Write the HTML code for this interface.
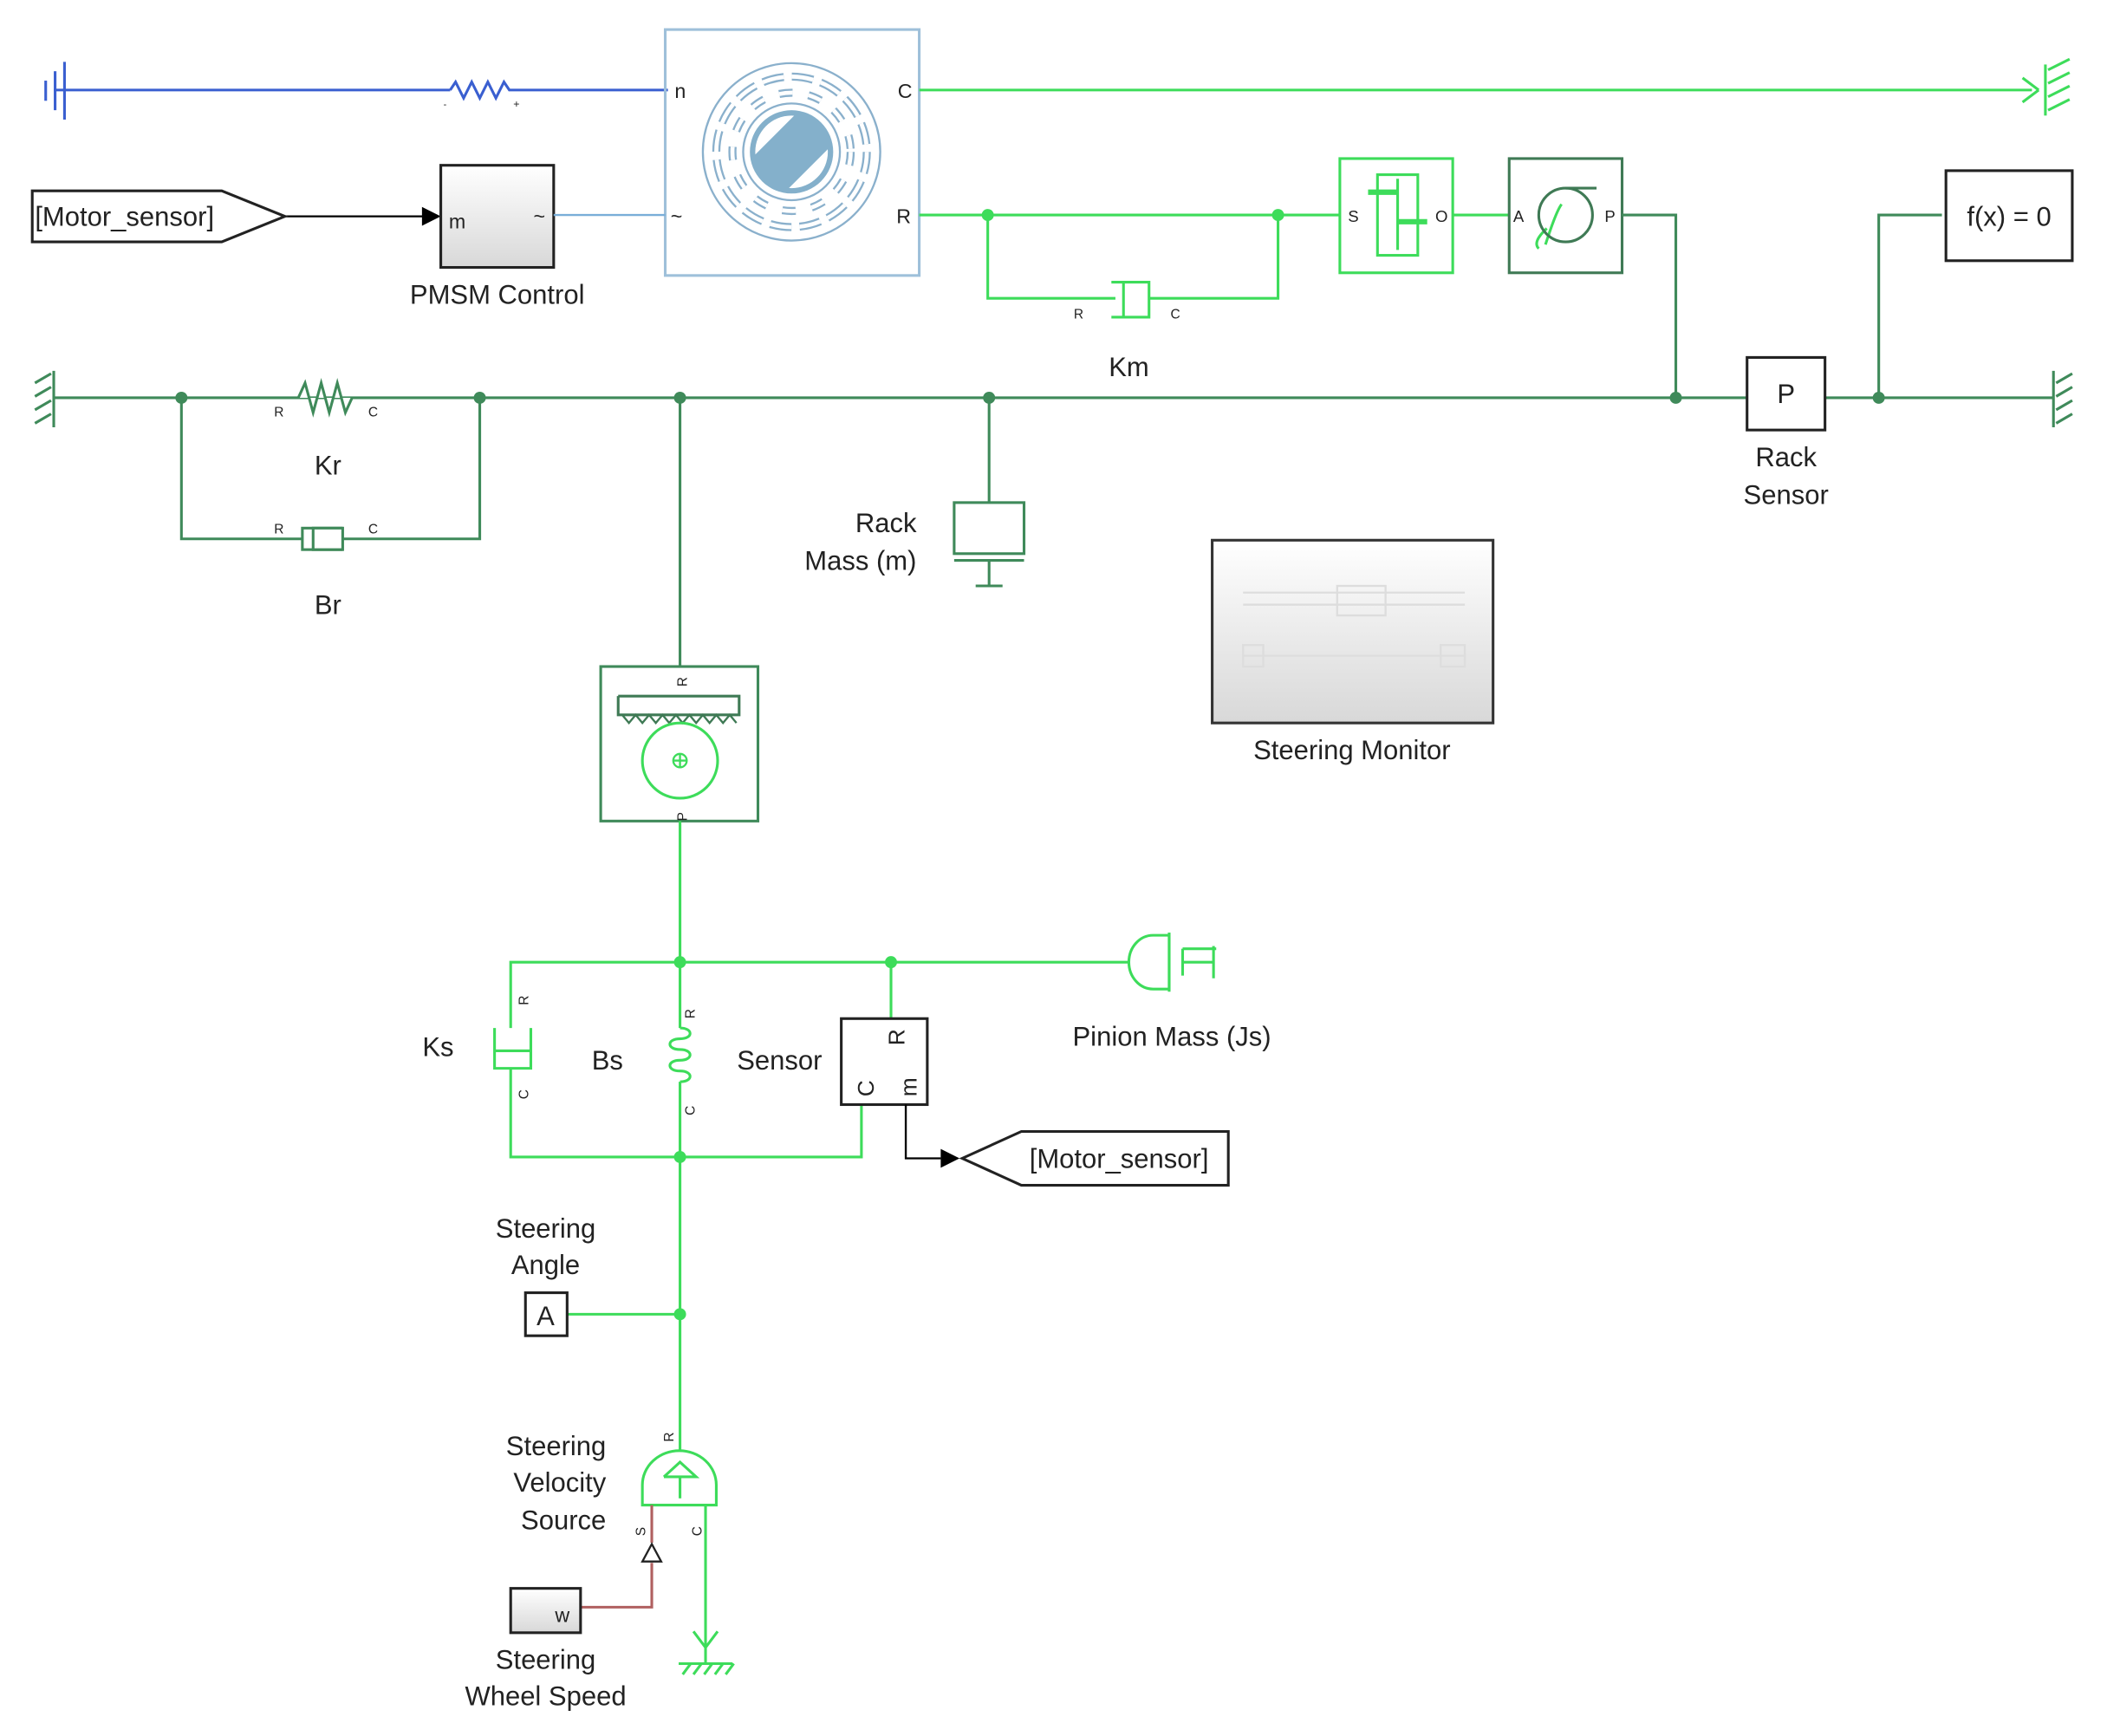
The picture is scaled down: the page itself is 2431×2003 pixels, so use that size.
<!DOCTYPE html>
<html><head><meta charset="utf-8"><style>
html,body{margin:0;padding:0;background:#fff;}
svg{display:block;}
text{font-family:"Liberation Sans",sans-serif;fill:#222;}
</style></head><body>
<svg width="2431" height="2003" viewBox="0 0 1560 1285.4" preserveAspectRatio="none" xmlns="http://www.w3.org/2000/svg">
<defs>
<linearGradient id="g" x1="0" y1="0" x2="0" y2="1"><stop offset="0" stop-color="#fff"/><stop offset="1" stop-color="#d8d8d8"/></linearGradient>
<clipPath id="rc"><circle cx="589" cy="113" r="27"/></clipPath>
</defs>
<g transform="scale(0.995)">
<g fill="none" stroke-width="2">
<g stroke="#3a5fd0">
<line x1="40" y1="67" x2="335" y2="67"/>
<polyline points="335,67 339,61 345,73 351,61 357,73 363,61 369,73 375,61 379,67 497,67"/>
<line x1="48" y1="46" x2="48" y2="89"/>
<line x1="41" y1="53" x2="41" y2="82"/>
<line x1="34" y1="60" x2="34" y2="75"/>
</g>
<text x="330" y="80" font-size="7" stroke="none" fill="#3a5fd0">-</text>
<text x="382" y="80" font-size="8" stroke="none" fill="#3a5fd0">+</text>
<rect x="495" y="22" width="189" height="183" stroke="#9ec0da"/>
<g stroke="#8ab0cc" stroke-width="1.5">
<circle cx="589" cy="113" r="66"/>
<circle cx="589" cy="113" r="56" stroke-width="6" stroke-dasharray="16 6"/>
<circle cx="589" cy="113" r="56" stroke="#fff" stroke-width="3" stroke-dasharray="16 6"/>
<circle cx="589" cy="113" r="44" stroke-width="6" stroke-dasharray="10 12"/>
<circle cx="589" cy="113" r="44" stroke="#fff" stroke-width="3" stroke-dasharray="10 12"/>
<circle cx="589" cy="113" r="36"/>
</g>
<circle cx="589" cy="113" r="31" fill="#84b0cb" stroke="none"/>
<g clip-path="url(#rc)">
<polygon points="533,144 620,57 523,47" fill="#fff" stroke="none"/>
<polygon points="645,82 558,169 655,179" fill="#fff" stroke="none"/>
</g>
<line x1="212" y1="161" x2="316" y2="161" stroke="#000" stroke-width="1.5"/>
<polygon points="314,154 328,161 314,168" fill="#000" stroke="none"/>
<rect x="328" y="123" width="84" height="76" fill="url(#g)" stroke="#222"/>
<line x1="412" y1="160" x2="495" y2="160" stroke="#7aaed8" stroke-width="1.5"/>
<polygon points="24,142 165,142 212,161 165,180 24,180" fill="#fff" stroke="#222"/>
<line x1="684" y1="67" x2="1512" y2="67" stroke="#3ddc5a"/>
<g stroke="#3ddc5a"><line x1="1505" y1="58" x2="1517" y2="67"/><line x1="1505" y1="76" x2="1517" y2="67"/><line x1="1522" y1="48" x2="1522" y2="86"/>
<line x1="1524" y1="52" x2="1540" y2="44"/><line x1="1524" y1="62" x2="1540" y2="54"/><line x1="1524" y1="72" x2="1540" y2="64"/><line x1="1524" y1="82" x2="1540" y2="74"/></g>
<g stroke="#3ddc5a">
<line x1="684" y1="160" x2="997" y2="160"/>
<polyline points="735,160 735,222 830,222"/>
<polyline points="951,160 951,222 855,222"/>
<line x1="836" y1="209" x2="836" y2="236"/>
<polyline points="827,210 855,210 855,236 827,236"/>
<rect x="997" y="118" width="84" height="85"/>
<rect x="1025" y="130" width="30" height="60"/>
<line x1="1040" y1="133" x2="1040" y2="186"/>
<line x1="1018" y1="143" x2="1040" y2="143" stroke-width="4"/>
<line x1="1040" y1="165" x2="1062" y2="165" stroke-width="4"/>
<line x1="1081" y1="160" x2="1123" y2="160"/>
<path d="M1150,182 q8,-25 12,-30 M1145,185 q-5,-5 6,-15" />
</g>
<circle cx="735" cy="160" r="4.5" fill="#3ddc5a" stroke="none"/>
<circle cx="951" cy="160" r="4.5" fill="#3ddc5a" stroke="none"/>
<rect x="1123" y="118" width="84" height="85" stroke="#3f7a55"/>
<circle cx="1165" cy="160" r="20" stroke="#3f7a55"/>
<line x1="1165" y1="140" x2="1188" y2="140" stroke="#3f7a55"/>
<g stroke="#3f8a5a">
<polyline points="1207,160 1247,160 1247,296"/>
<line x1="40" y1="296" x2="1300" y2="296"/>
<line x1="1358" y1="296" x2="1528" y2="296"/>
<line x1="40" y1="276" x2="40" y2="318"/>
<line x1="26" y1="285" x2="38" y2="278"/><line x1="26" y1="295" x2="38" y2="288"/><line x1="26" y1="305" x2="38" y2="298"/><line x1="26" y1="315" x2="38" y2="308"/>
<line x1="1528" y1="276" x2="1528" y2="318"/>
<line x1="1530" y1="285" x2="1542" y2="278"/><line x1="1530" y1="295" x2="1542" y2="288"/><line x1="1530" y1="305" x2="1542" y2="298"/><line x1="1530" y1="315" x2="1542" y2="308"/>
<polyline points="222,296 227,285 233,307 239,285 245,307 251,285 257,307 262,296" stroke="#3f8a5a" fill="#fff"/>
<polyline points="135,296 135,401 225,401"/>
<polyline points="357,296 357,401 255,401"/>
<polyline points="255,393 233,393 233,409 255,409" fill="#fff"/>
<rect x="225" y="393" width="30" height="16" fill="#fff"/>
<line x1="233" y1="393" x2="233" y2="409"/>
<polyline points="1398,296 1398,160 1445,160"/>
<line x1="736" y1="296" x2="736" y2="374"/>
<rect x="710" y="374" width="52" height="38"/>
<line x1="710" y1="417" x2="762" y2="417"/>
<line x1="736" y1="417" x2="736" y2="436"/>
<line x1="726" y1="436" x2="746" y2="436"/>
<line x1="506" y1="296" x2="506" y2="496"/>
<rect x="447" y="496" width="117" height="115"/>
</g>
<g fill="#3f8a5a" stroke="none">
<circle cx="135" cy="296" r="4.5"/><circle cx="357" cy="296" r="4.5"/><circle cx="506" cy="296" r="4.5"/><circle cx="736" cy="296" r="4.5"/><circle cx="1247" cy="296" r="4.5"/><circle cx="1398" cy="296" r="4.5"/>
</g>
<rect x="1300" y="266" width="58" height="54" fill="#fff" stroke="#222"/>
<rect x="1448" y="127" width="94" height="67" fill="#fff" stroke="#222"/>
<rect x="902" y="402" width="209" height="136" fill="url(#g)" stroke="#333"/>
<g stroke="#ddd" stroke-width="1.5"><line x1="925" y1="441" x2="1090" y2="441"/><line x1="925" y1="450" x2="1090" y2="450"/><rect x="995" y="436" width="36" height="22"/><line x1="925" y1="488" x2="1090" y2="488"/><rect x="925" y="480" width="15" height="16"/><rect x="1072" y="480" width="18" height="16"/></g>
<polyline points="460,518 550,518 550,532 460,532 460,518" stroke="#3f7a55"/>
<polyline points="463,532 468,538 473,532 478,538 483,532 488,538 493,532 498,538 503,532 508,538 513,532 518,538 523,532 528,538 533,532 538,538 543,532 548,538" stroke="#3f7a55" stroke-width="1.5"/>
<circle cx="506" cy="566" r="28" stroke="#3ddc5a"/>
<circle cx="506" cy="566" r="5" stroke="#3ddc5a" stroke-width="1.5"/>
<path d="M501,566 h10 M506,561 v10" stroke="#3ddc5a" stroke-width="1.5"/>
<g stroke="#3ddc5a">
<line x1="506" y1="611" x2="506" y2="765"/>
<line x1="506" y1="805" x2="506" y2="1080"/>
<polyline points="380,765 380,716 840,716"/>
<polyline points="380,795 380,861 641,861 641,822"/>
<line x1="663" y1="716" x2="663" y2="758"/>
<path d="M870,696 h-12 a18,20 0 0 0 0,40 h12 Z"/>
<line x1="870" y1="694" x2="870" y2="738"/><line x1="880" y1="706" x2="905" y2="706"/><line x1="880" y1="706" x2="880" y2="726"/><line x1="880" y1="716" x2="903" y2="716"/><line x1="903" y1="704" x2="903" y2="728"/>
<polyline points="368,765 368,795 395,795 395,765"/>
<line x1="368" y1="782" x2="395" y2="782"/>
<path d="M506,765 c10,0 10,8 0,8 c-10,0 -10,8 0,8 c10,0 10,8 0,8 c-10,0 -10,8 0,8 c10,0 10,8 0,8" fill="none"/>
<line x1="422" y1="978" x2="506" y2="978"/>
<path d="M478,1120 v-15 a27,25 0 0 1 55,0 v15 Z"/>
<polyline points="494,1099 506,1088 518,1099 494,1099"/><line x1="506" y1="1099" x2="506" y2="1115"/>
<line x1="525" y1="1120" x2="525" y2="1238"/>
<path d="M516,1214 l9,12 l9,-12"/>
<line x1="505" y1="1238" x2="545" y2="1238"/>
<path d="M508,1246 l6,-8 M516,1246 l6,-8 M524,1246 l6,-8 M532,1246 l6,-8 M540,1246 l6,-8"/>
</g>
<g fill="#3ddc5a" stroke="none"><circle cx="506" cy="716" r="4.5"/><circle cx="663" cy="716" r="4.5"/><circle cx="506" cy="861" r="4.5"/><circle cx="506" cy="978" r="4.5"/></g>
<rect x="626" y="758" width="64" height="64" fill="#fff" stroke="#222"/>
<polyline points="674,822 674,862 700,862" stroke="#000" stroke-width="1.5"/>
<polygon points="700,855 714,862 700,869" fill="#000" stroke="none"/>
<polygon points="716,862 760,842 914,842 914,882 760,882" fill="#fff" stroke="#222"/>
<rect x="391" y="962" width="31" height="32" fill="#fff" stroke="#222"/>
<polyline points="485,1120 485,1148" stroke="#b06060"/>
<polygon points="485,1149 478,1162 492,1162" fill="#fff" stroke="#222" stroke-width="1.5"/>
<polyline points="485,1163 485,1196 432,1196" stroke="#b06060"/>
<rect x="380" y="1182" width="52" height="33" fill="url(#g)" stroke="#222"/>
</g>
<g font-size="15">
<text x="502" y="73">n</text><text x="499" y="166">~</text>
<text x="668" y="73">C</text><text x="667" y="166">R</text>
<text x="26" y="168" font-size="20">[Motor_sensor]</text>
<text x="334" y="170" font-size="15">m</text><text x="397" y="166">~</text>
<text x="370" y="226" font-size="20" text-anchor="middle">PMSM Control</text>
<text x="1003" y="165" font-size="12">S</text><text x="1068" y="165" font-size="12">O</text>
<text x="1126" y="165" font-size="12">A</text><text x="1194" y="165" font-size="12">P</text>
<text x="799" y="237" font-size="10" fill="#555">R</text><text x="871" y="237" font-size="10" fill="#555">C</text>
<text x="840" y="280" font-size="20" text-anchor="middle">Km</text>
<text x="204" y="310" font-size="10" fill="#555">R</text><text x="274" y="310" font-size="10" fill="#555">C</text>
<text x="204" y="397" font-size="10" fill="#555">R</text><text x="274" y="397" font-size="10" fill="#555">C</text>
<text x="244" y="353" font-size="20" text-anchor="middle">Kr</text>
<text x="244" y="457" font-size="20" text-anchor="middle">Br</text>
<text x="1329" y="300" font-size="20" text-anchor="middle">P</text>
<text x="1329" y="347" font-size="20" text-anchor="middle">Rack</text>
<text x="1329" y="375" font-size="20" text-anchor="middle">Sensor</text>
<text x="1495" y="168" font-size="20" text-anchor="middle">f(x) = 0</text>
<text x="682" y="396" font-size="20" text-anchor="end">Rack</text>
<text x="682" y="424" font-size="20" text-anchor="end">Mass (m)</text>
<text x="1006" y="565" font-size="20" text-anchor="middle">Steering Monitor</text>
<text x="326" y="786" font-size="20" text-anchor="middle">Ks</text>
<text x="452" y="796" font-size="20" text-anchor="middle">Bs</text>
<text x="580" y="796" font-size="20" text-anchor="middle">Sensor</text>
<text x="872" y="778" font-size="20" text-anchor="middle">Pinion Mass (Js)</text>
<text x="766" y="869" font-size="20">[Motor_sensor]</text>
<text x="406" y="921" font-size="20" text-anchor="middle">Steering</text>
<text x="406" y="948" font-size="20" text-anchor="middle">Angle</text>
<text x="406" y="986" font-size="20" text-anchor="middle">A</text>
<text x="451" y="1083" font-size="20" text-anchor="end">Steering</text>
<text x="451" y="1110" font-size="20" text-anchor="end">Velocity</text>
<text x="451" y="1138" font-size="20" text-anchor="end">Source</text>
<text x="413" y="1207" font-size="15">w</text>
<text x="406" y="1242" font-size="20" text-anchor="middle">Steering</text>
<text x="406" y="1269" font-size="20" text-anchor="middle">Wheel Speed</text>
</g>
<g font-size="10" fill="#555">
<text transform="translate(393,748) rotate(-90)">R</text>
<text transform="translate(393,818) rotate(-90)">C</text>
<text transform="translate(517,758) rotate(-90)">R</text>
<text transform="translate(517,830) rotate(-90)">C</text>
<text transform="translate(511,511) rotate(-90)">R</text>
<text transform="translate(511,611) rotate(-90)">P</text>
<text transform="translate(501,1073) rotate(-90)">R</text>
<text transform="translate(480,1143) rotate(-90)">S</text>
<text transform="translate(522,1143) rotate(-90)">C</text>
</g>
<g font-size="17">
<text transform="translate(673,778) rotate(-90)">R</text>
<text transform="translate(650,816) rotate(-90)">C</text>
<text transform="translate(682,816) rotate(-90)">m</text>
</g>
</g>
</svg>
</body></html>
